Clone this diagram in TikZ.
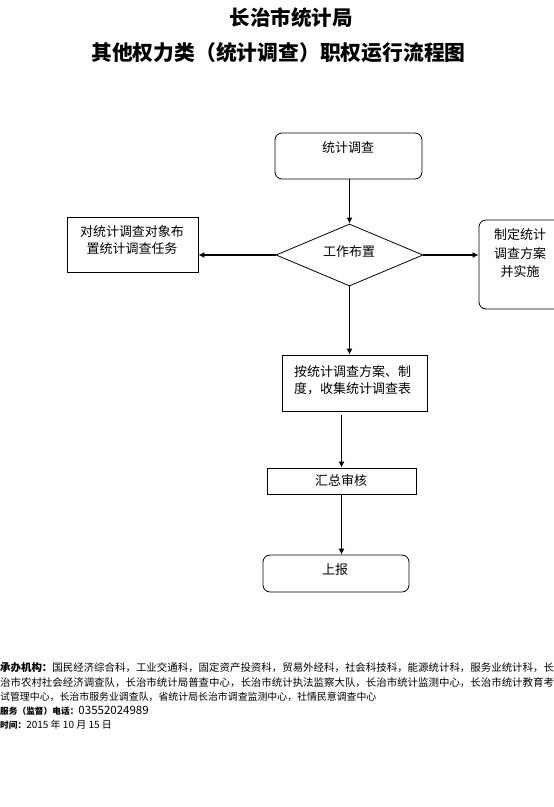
\documentclass[tikz,border=0pt]{standalone}
\usepackage{fontspec}
\setmainfont{Noto Sans CJK SC}
\usetikzlibrary{shapes.geometric,arrows.meta}
\tikzset{
  box/.style={draw=black,line width=0.8pt,inner sep=0pt},
  rbox/.style={box,rounded corners=7pt},
  txt/.style={inner sep=0pt,font=\fontsize{13}{16.5}\selectfont,align=center},
  arr/.style={line width=1.8pt,-{Latex[length=6pt,width=6pt]}},
  foot/.style={inner sep=0pt,anchor=west}
}
\begin{document}
\begin{tikzpicture}[x=1pt,y=-1pt]
\useasboundingbox[fill=white] (0,0) rectangle (554,807);
% titles
\node[inner sep=0pt,font=\fontsize{20.5}{24}\selectfont\bfseries] (t1) at (291,18) {长治市统计局};
\node[inner sep=0pt,font=\fontsize{20.8}{24}\selectfont\bfseries] (t2) at (278.5,53) {其他权力类（统计调查）职权运行流程图};
% boxes
\node[rbox,minimum width=147pt,minimum height=46pt] (start) at (348.5,156) {};
\node[txt] (starttxt) at (348,148) {统计调查};
\node[box,draw,diamond,minimum width=147pt,minimum height=62pt] (dia) at (349.5,255) {};
\node[txt] (diatxt) at (349,252) {工作布置};
\node[box,minimum width=131pt,minimum height=55pt] (left) at (132.5,244.5) {};
\node[txt] (lefttxt) at (132,240) {对统计调查对象布\\置统计调查任务};
\node[rbox,minimum width=111pt,minimum height=89pt] (plan) at (534.5,264.5) {};
\node[txt,font=\fontsize{13}{18.5}\selectfont] (plantxt) at (520,253.5) {制定统计\\调查方案\\并实施};
\node[box,minimum width=145pt,minimum height=56pt] (collect) at (354.5,383) {};
\node[txt] (collecttxt) at (352.5,380) {按统计调查方案、制\\度，收集统计调查表};
\node[box,minimum width=149pt,minimum height=26pt] (summ) at (341.5,481) {};
\node[txt] (summtxt) at (341,481) {汇总审核};
\node[rbox,minimum width=146pt,minimum height=37pt] (report) at (336,573.5) {};
\node[txt] (reporttxt) at (335,570) {上报};
% arrows
\draw[arr] (start.south -| dia.north) -- (dia.north);
\draw[arr] (dia.west) -- (dia.west -| left.east);
\draw[arr] (dia.east) -- (dia.east -| plan.west);
\draw[arr] (dia.south) -- (dia.south |- collect.north);
\draw[arr,shorten <=4pt] (summ.north |- collect.south) -- (summ.north);
\draw[arr] (summ.south) -- (summ.south |- report.north);
% footer
\node[foot,font=\fontsize{10.45}{12}\selectfont] (f1) at (0,668) {\textbf{承办机构：}国民经济综合科，工业交通科，固定资产投资科，贸易外经科，社会科技科，能源统计科，服务业统计科，长};
\node[foot,font=\fontsize{10.45}{12}\selectfont] (f2) at (0,682.5) {治市农村社会经济调查队，长治市统计局普查中心，长治市统计执法监察大队，长治市统计监测中心，长治市统计教育考};
\node[foot,font=\fontsize{9.9}{12}\selectfont] (f3) at (0,697) {试管理中心，长治市服务业调查队，省统计局长治市调查监测中心，社情民意调查中心};
\node[foot,font=\fontsize{8.7}{12}\selectfont] (f4) at (0,711) {\textbf{服务（监督）电话：}\fontsize{11.5}{12}\selectfont 03552024989};
\node[foot,font=\fontsize{8.7}{12}\selectfont] (f5) at (0,725) {\textbf{时间：}\fontsize{10}{12}\selectfont 2015 年 10 月 15 日};
\end{tikzpicture}
\end{document}
